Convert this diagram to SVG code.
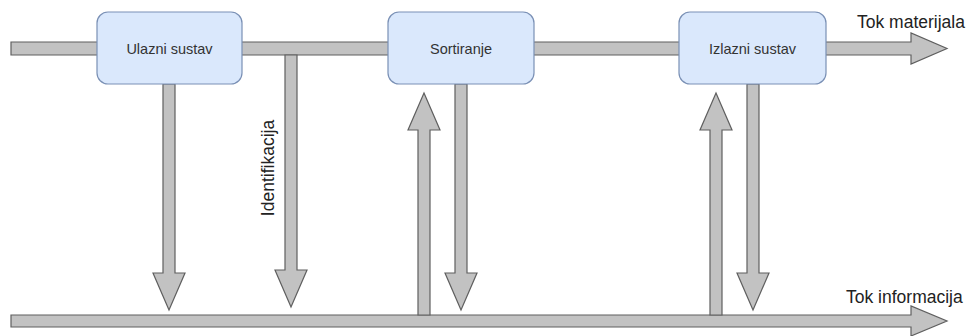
<svg xmlns="http://www.w3.org/2000/svg" width="971" height="336" viewBox="0 0 971 336">
<style>
.ar{fill:#c2c2c2;stroke:#5f5f5f;stroke-width:1.2;stroke-linejoin:miter}
.box{fill:#dae8fc;stroke:#7a90b5;stroke-width:1.2}
.lb{font-family:"Liberation Sans",Arial,sans-serif;font-size:14.5px;fill:#333;text-anchor:middle;dominant-baseline:central}
.tx{font-family:"Liberation Sans",Arial,sans-serif;font-size:17.5px;fill:#222}
</style>
<rect width="971" height="336" fill="#fff"/>
<g id="connectors">
<polygon class="ar" points="11,42 911,42 911,33 947,48.5 911,64 911,55 11,55"/>
<polygon class="ar" points="11,315 911,315 911,306 947,321 911,336 911,327 11,327"/>
<polygon class="ar" points="163,84 175,84 175,273 185,273 169,310 153,273 163,273"/>
<polygon class="ar" points="285,55 297,55 297,270 307,270 291,307 275,270 285,270"/>
<polygon class="ar" points="418,315 430,315 430,130 440,130 424,93 408,130 418,130"/>
<polygon class="ar" points="455,84 467,84 467,273 477,273 461,310 445,273 455,273"/>
<polygon class="ar" points="710,315 722,315 722,130 732,130 716,93 700,130 710,130"/>
<polygon class="ar" points="747,84 759,84 759,273 769,273 753,310 737,273 747,273"/>
</g>
<g id="ulazni"><rect class="box" x="97" y="12" width="145" height="72" rx="11"/><text class="lb" x="169.5" y="49">Ulazni sustav</text></g>
<g id="sortiranje"><rect class="box" x="388" y="12" width="146" height="72" rx="11"/><text class="lb" x="461" y="49">Sortiranje</text></g>
<g id="izlazni"><rect class="box" x="679" y="12" width="147" height="72" rx="11"/><text class="lb" x="752.5" y="49">Izlazni sustav</text></g>
<g id="labels">
<text class="tx" x="857" y="28">Tok materijala</text>
<text class="tx" x="846" y="303">Tok informacija</text>
<text class="tx" transform="translate(274,168) rotate(-90)" text-anchor="middle">Identifikacija</text>
</g>
</svg>
